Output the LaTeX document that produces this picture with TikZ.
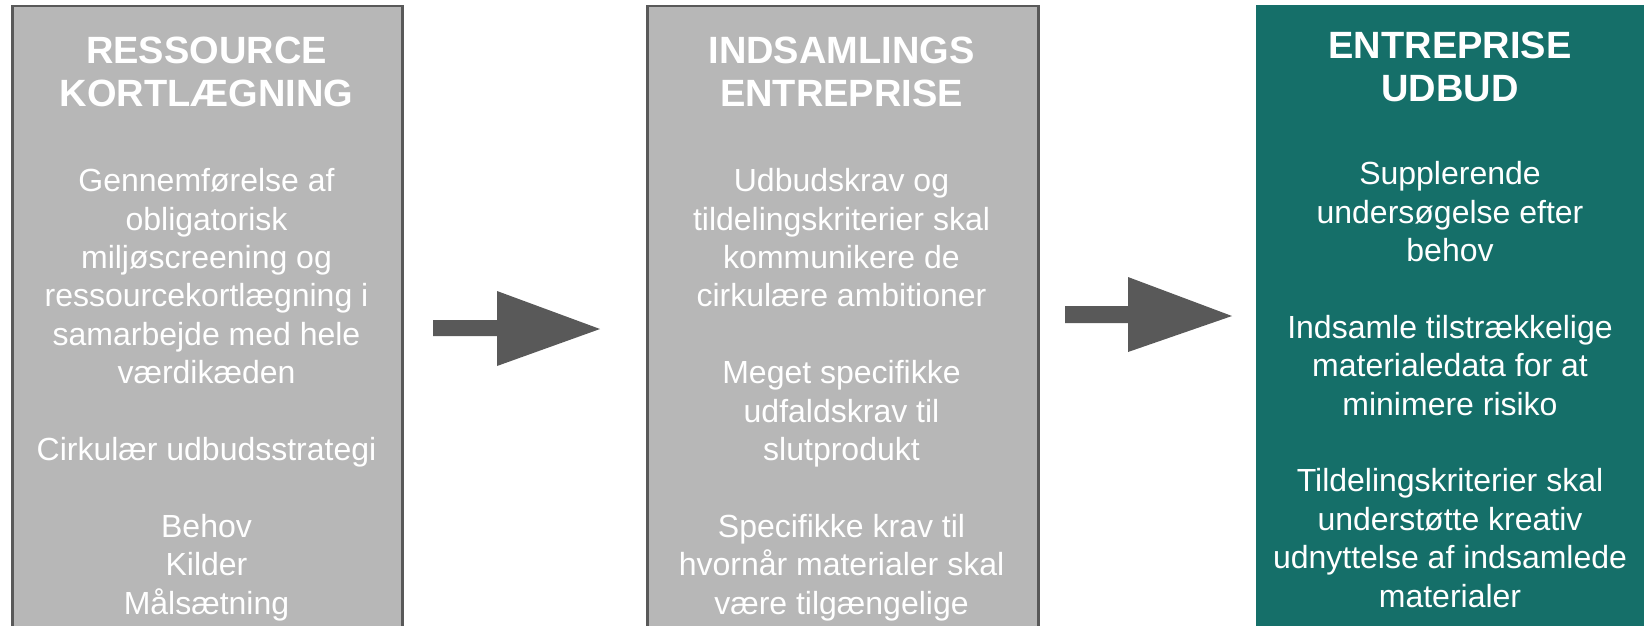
\documentclass[tikz,border=0pt]{standalone}
\usepackage{fontspec}
\setmainfont{Liberation Sans}
\definecolor{boxgray}{RGB}{183,183,183}
\definecolor{edgegray}{RGB}{89,89,89}
\definecolor{tealbox}{RGB}{21,111,105}
\tikzset{every picture/.style={line width=2.6pt}}

\begin{document}
\begin{tikzpicture}[x=1pt,y=1pt,yscale=-1,xscale=1,
  graybox/.style={draw=edgegray,fill=boxgray,inner sep=0pt,minimum height=660pt,anchor=north west},
  tealpanel/.style={fill=tealbox,inner sep=0pt,minimum height=660pt,anchor=north west},
  heading/.style={anchor=base,align=center,text=white,inner sep=0pt,font=\fontsize{38}{43}\selectfont\bfseries},
  bodytext/.style={anchor=base,align=center,text=white,inner sep=0pt,font=\fontsize{32}{38.4}\selectfont},
  blockarrow/.style={fill=edgegray,draw=none}]
\useasboundingbox (0,0) rectangle (1644,625);
\clip (0,0) rectangle (1644,625);

%Boxes
\node [graybox,minimum width=390pt] (resbox) at (11,4.5) {};
\node [graybox,minimum width=391pt] (indbox) at (646,4.5) {};
\node [tealpanel,minimum width=400pt] (entbox) at (1255,4) {};

%Block arrows
\draw [blockarrow] (433,320) -- (497,320) -- (497,291) -- (600,329) -- (497,366) -- (497,336) -- (433,336) -- cycle ;
\draw [blockarrow] (1065,306) -- (1128,306) -- (1128,277) -- (1232,316) -- (1128,352) -- (1128,323) -- (1065,323) -- cycle ;

% Headings (anchored at the baseline of the last line)
\node [heading] (resT) at (206.5,106) {RESSOURCE\\KORTLÆGNING};
\node [heading] (indT) at (841.5,106) {INDSAMLINGS\\ENTREPRISE};
\node [heading] (entT) at (1450,101.5) {ENTREPRISE\\UDBUD};

% Body texts
\node [bodytext] (resB) at (206.5,614) {Gennemførelse af\\obligatorisk\\miljøscreening og\\ressourcekortlægning i\\samarbejde med hele\\værdikæden\\[38.4pt]Cirkulær udbudsstrategi\\[38.4pt]Behov\\Kilder\\Målsætning};
\node [bodytext] (indB) at (841.5,614) {Udbudskrav og\\tildelingskriterier skal\\kommunikere de\\cirkulære ambitioner\\[38.4pt]Meget specifikke\\udfaldskrav til\\slutprodukt\\[38.4pt]Specifikke krav til\\hvornår materialer skal\\være tilgængelige};
\node [bodytext] (entB) at (1450,607) {Supplerende\\undersøgelse efter\\behov\\[38.4pt]Indsamle tilstrækkelige\\materialedata for at\\minimere risiko\\[38.4pt]Tildelingskriterier skal\\understøtte kreativ\\udnyttelse af indsamlede\\materialer};

\end{tikzpicture}
\end{document}
